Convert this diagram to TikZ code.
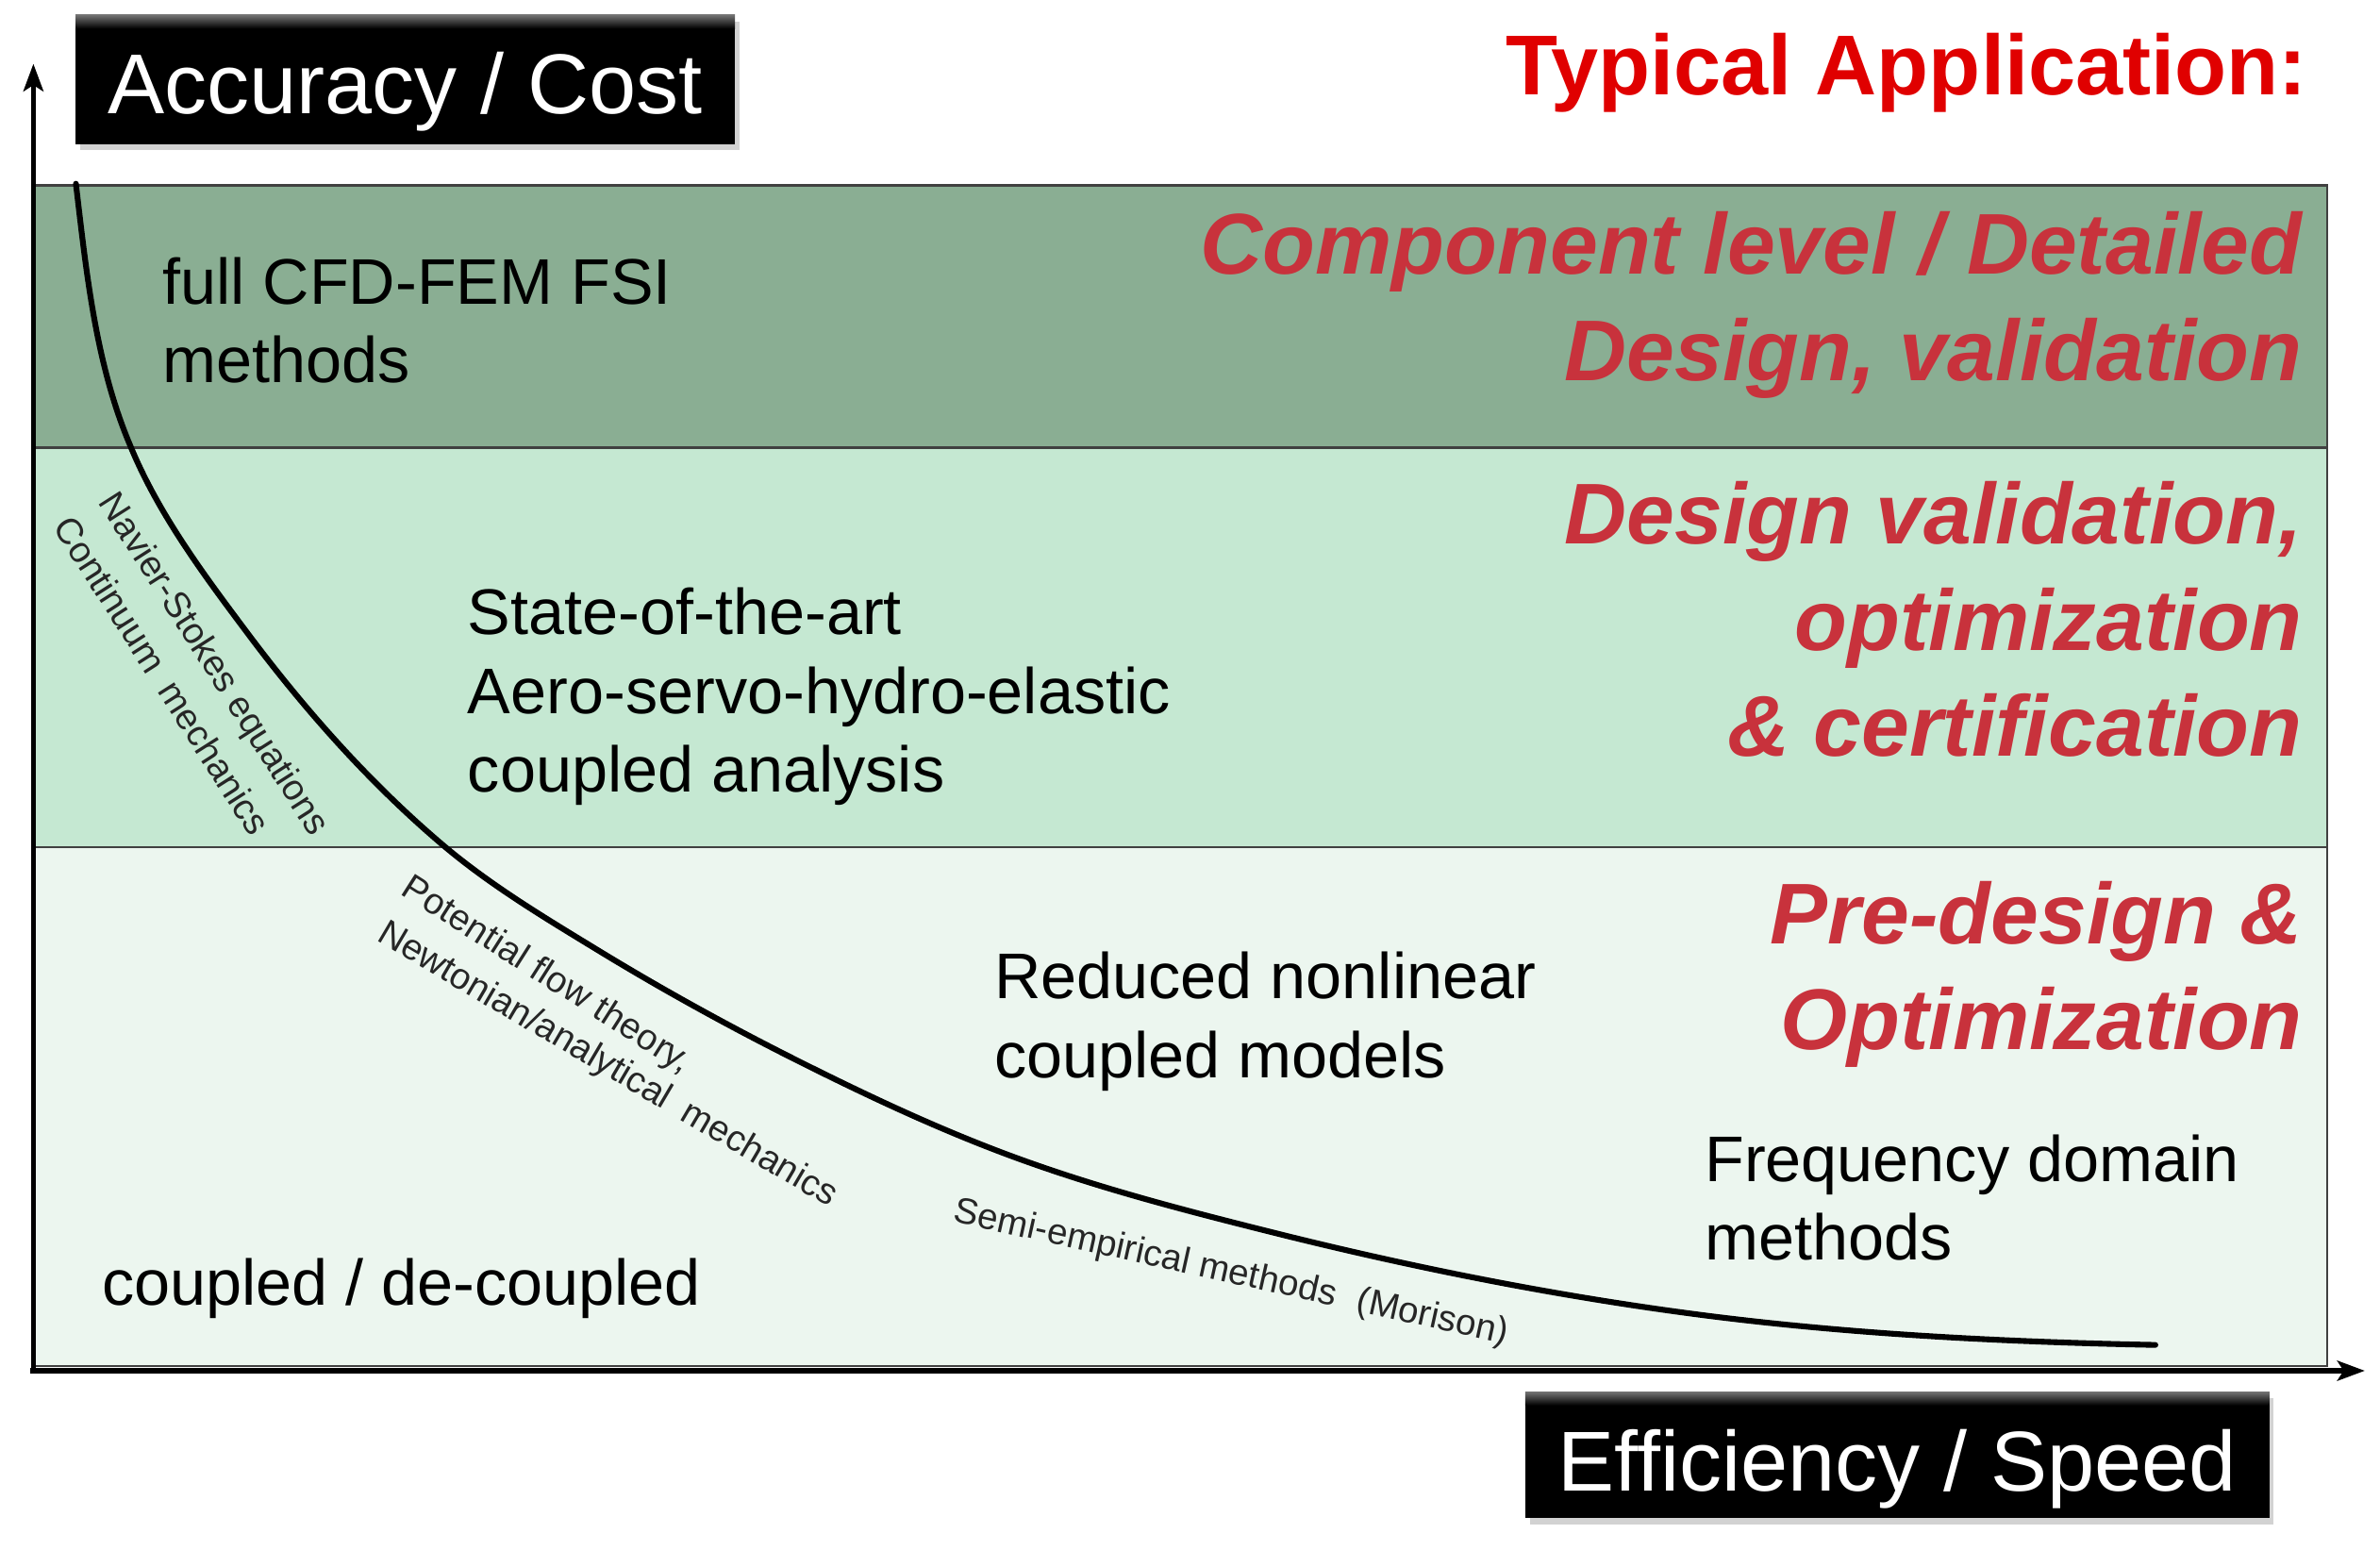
\documentclass[tikz,border=0pt]{standalone}
\usepackage{fontspec}
\setmainfont{Liberation Sans}
\usetikzlibrary{arrows.meta,shadows}
\definecolor{bandA}{HTML}{8AAE93}
\definecolor{bandB}{HTML}{C5E8D2}
\definecolor{bandC}{HTML}{ECF6EF}
\definecolor{titlered}{HTML}{E00000}
\definecolor{apred}{HTML}{C8323C}
\begin{document}
\begin{tikzpicture}[x=1pt,y=-1pt,
  band/.style={draw=black!75,line width=1.5pt},
  blackbox/.style={fill=black,text=white,inner sep=0pt,font=\fontsize{56}{60}\selectfont,
    drop shadow={shadow xshift=3pt,shadow yshift=-4pt,opacity=0.35}},
  body/.style={font=\fontsize{42.5}{52}\selectfont,align=left,inner sep=0pt,anchor=west},
  app/.style={font=\fontsize{56.8}{70}\selectfont\bfseries\itshape,text=apred,align=right,inner sep=0pt,anchor=east},
  small/.style={font=\fontsize{24}{28}\selectfont,inner sep=0pt,text=black!85},
  gloss/.style={top color=black!55,bottom color=black},
  curveline/.style={line width=3.8pt,line cap=round},
  axisline/.style={line width=3.5pt,-{Stealth[length=18pt,width=13pt,inset=4pt]}}]
\useasboundingbox (0,0) rectangle (1568,1021);
\fill[white] (0,0) rectangle (1568,1021);
% bands
\draw[band,fill=bandA] (22,122) rectangle (1533,295);
\draw[band,fill=bandB] (22,295) rectangle (1533,558);
\draw[band,fill=bandC] (22,558) rectangle (1533,900);
% curve
\draw[curveline] (50,121)
  .. controls (57,180) and (63,240) .. (86,294)
  .. controls (105,340) and (136,381) .. (166,421)
  .. controls (203,470) and (244.5,516.5) .. (291,556)
  .. controls (322.6,582.9) and (358.6,604.4) .. (394,626)
  .. controls (437.6,652.6) and (482.4,677.2) .. (528,700)
  .. controls (575.4,723.7) and (623.1,746) .. (673,764)
  .. controls (727.6,783.7) and (782.7,797.9) .. (839,812)
  .. controls (931.2,835.1) and (1024.8,853.7) .. (1119,866)
  .. controls (1218.2,878.9) and (1320,884) .. (1420,886);
% axes
\coordinate (origin) at (22,903);
\coordinate (ytip) at (22,42);
\coordinate (xtip) at (1558,903);
\draw[axisline] ([yshift=-2pt]origin) -- (ytip);
\draw[axisline] ([xshift=-2pt]origin) -- (xtip);
% titles
\node[blackbox,minimum width=434pt,minimum height=85pt,text height=57pt,text depth=12pt] (acc) at (267,52.5) {Accuracy / Cost};
\shade[gloss] (acc.north west) rectangle ([yshift=-9pt]acc.north east);
\node[blackbox,minimum width=490pt,minimum height=83pt,text height=59pt,text depth=12pt] (eff) at (1250,958.5) {Efficiency / Speed};
\shade[gloss] (eff.north west) rectangle ([yshift=-9pt]eff.north east);
\node[font=\fontsize{56}{60}\selectfont\bfseries,text=titlered,inner sep=0pt,anchor=east] (typ) at (1520,48) {Typical Application:};
% body texts
\node[body] (cfd) at (107,211) {full CFD-FEM FSI\\methods};
\node[body] (soa) at (308,459) {State-of-the-art\\Aero-servo-hydro-elastic\\coupled analysis};
\node[body] (red) at (655,673) {Reduced nonlinear\\coupled models};
\node[body] (freq) at (1123,789) {Frequency domain\\methods};
\node[body] (coup) at (67,849) {coupled / de-coupled};
% applications
\node[app] (ap1) at (1517,201) {Component level / Detailed\\Design, validation};
\node[app] (ap2) at (1517,408) {Design validation,\\optimization\\\& certification};
\node[app] (ap3) at (1517,642) {Pre-design \&\\Optimization};
% curve labels
\node[small,rotate=-57.5] (ns) at (140,438) {Navier-Stokes equations};
\node[small,rotate=-57.5] (cm) at (107,445) {Continuum\hspace{0.5em}mechanics};
\node[small,rotate=-32.5] (pf) at (360,643) {Potential flow theory,};
\node[small,rotate=-30.5] (nm) at (400,702) {Newtonian/analytical\hspace{0.5em}mechanics};
\node[small,rotate=-12.5] (se) at (811,839) {Semi-empirical methods\hspace{0.6em}(Morison)};
\end{tikzpicture}
\end{document}
